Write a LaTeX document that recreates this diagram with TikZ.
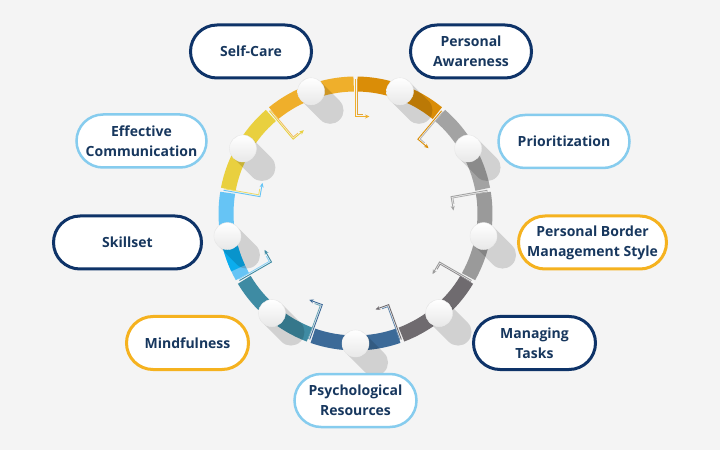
\documentclass[tikz,border=0pt]{standalone}
\usepackage{fontspec}
\setmainfont{Open Sans}
\usetikzlibrary{calc,arrows.meta}
\definecolor{bgc}{HTML}{F4F4F4}
\definecolor{navy}{HTML}{0E3368}
\definecolor{txt}{HTML}{17375E}
\definecolor{lblue}{HTML}{86CCEE}
\definecolor{orng}{HTML}{F5B21F}
\definecolor{segA}{HTML}{EFAF2B}
\definecolor{segB}{HTML}{DA8D07}
\definecolor{segC}{HTML}{A3A3A3}
\definecolor{segD}{HTML}{9A9A9A}
\definecolor{segE}{HTML}{6F6B6F}
\definecolor{segF}{HTML}{3C6A98}
\definecolor{segG}{HTML}{3E8BA3}
\definecolor{segH}{HTML}{66C4F5}
\definecolor{segHd}{HTML}{0BADEE}
\definecolor{segI}{HTML}{E9D03F}
\tikzset{
  lab/.style={rounded corners=26.5pt, fill=white, line width=3pt, align=center,
    font=\bfseries\fontsize{14}{20}\selectfont, text=txt, inner sep=0pt, minimum height=53pt},
  labnavy/.style={lab, draw=navy},
  lablight/.style={lab, draw=lblue, line width=2.5pt},
  laborange/.style={lab, draw=orng},
  ringseg/.style={line width=15pt},
  shad/.style={line width=27pt, line cap=round, black, opacity=0.14},
  ballnode/.style={circle, minimum size=27pt, inner sep=0pt, top color=white, bottom color=black!9, draw=black!8, line width=0.4pt},
  tick/.style={line width=0.9pt, -{Stealth[length=4.5pt,width=4pt]}},
  tick2/.style={line width=0.8pt},
}
\begin{document}
\begin{tikzpicture}[x=1pt,y=1pt]
\fill[bgc] (0,0) rectangle (720,450);
\useasboundingbox (0,0) rectangle (720,450);
\coordinate (C) at (355.5,236.5);
% ring segments
\foreach \a/\col in {90/segA, 50/segB, 10/segC, -30/segD, -70/segE, -110/segF, -150/segG, 170/segH, 130/segI}{
  \draw[ringseg, \col] ($(C)+(\a+0.8:129.5)$) arc[start angle=\a+0.8, end angle=\a+39.2, radius=129.5];
}
\draw[ringseg, segHd] ($(C)+(192:129.5)$) arc[start angle=192, end angle=205, radius=129.5];
% bent arrows at the gaps
\foreach \b/\ca/\cb in {90/segA/segB, 50/segB/segC, 10/segC/segD, -30/segD/segE, -70/segE/segF, -110/segF/segG, -150/segG/segH, 170/segH/segI, 130/segI/segA}{
  \coordinate (o\b) at ($(C)+(\b:134)$);
  \coordinate (i\b) at ($(C)+(\b:97)$);
  \draw[tick2, \cb!80!white] ($(o\b)+(\b-90:1.6)$) -- ($(i\b)+(\b-90:1.6)+(\b:1.6)$) -- ++(\b-90:6);
  \draw[tick, \ca] (o\b) -- (i\b) -- ++(\b-90:14);
}
% shadows
\foreach \t in {110,70,30,-10,-50,-90,-130,-170,150}{
  \draw[shad] ($(C)+(\t:130)$) -- ++(19,-19);
}
% balls
\foreach \t [count=\i] in {110,70,30,-10,-50,-90,-130,-170,150}{
  \node[ballnode] (ball\i) at ($(C)+(\t:130)$) {};
}
% labels
\node[labnavy, minimum width=121pt] (selfcare) at (251,398.5) {Self-Care};
\node[labnavy, minimum width=121pt] (awareness) at (471,398.5) {Personal\\Awareness};
\node[lablight, minimum width=130pt] (effcomm) at (141.5,309) {Effective\\Communication};
\node[lablight, minimum width=131pt] (prior) at (564,308.5) {Prioritization};
\node[labnavy, minimum width=148pt] (skillset) at (127.5,207.5) {Skillset};
\node[laborange, minimum width=148pt] (border) at (592.5,207.5) {Personal Border\\Management Style};
\node[laborange, minimum width=122pt] (mindful) at (187.5,107) {Mindfulness};
\node[lablight, minimum width=122pt] (psych) at (355.5,49.5) {Psychological\\Resources};
\node[labnavy, minimum width=122pt] (tasks) at (534.5,107) {Managing\\Tasks};
\end{tikzpicture}
\end{document}
